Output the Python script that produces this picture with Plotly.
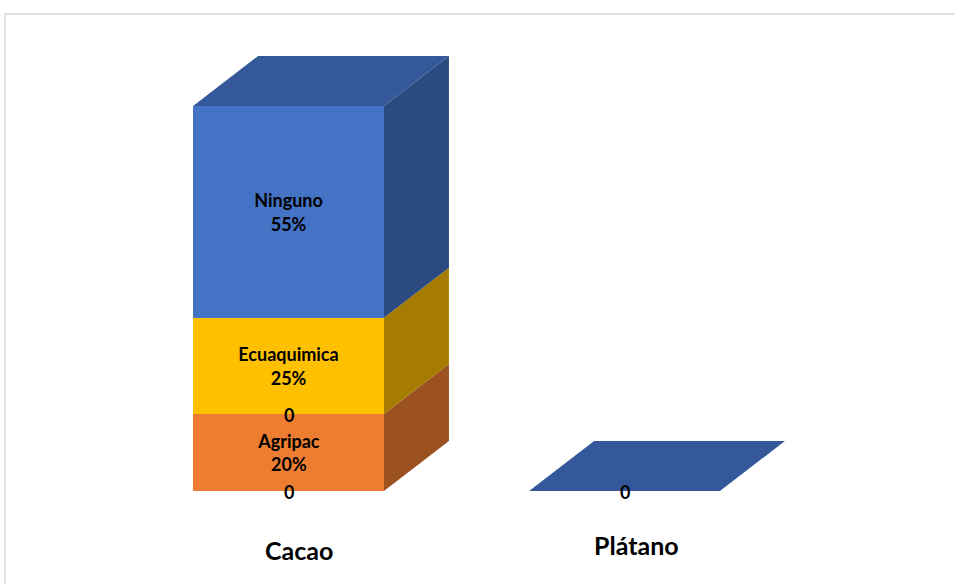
import plotly.graph_objects as go

# ---- data ----
categories = ["Cacao", "Plátano"]
series_names = ["Agripac", "Ecuaquimica", "Ninguno"]
cacao_values = [20, 25, 55]
platano_values = [0, 0, 0]
# zero-valued series shown only as "0" labels: (category index, stack level index)
zero_label_cat = [0, 0, 1]
zero_label_level = [0, 1, 0]   # number of named series below the label
zero_label_text = ["0", "0", "0"]

# ---- style ----
front_colors = ["#ED7D31", "#FFC000", "#4472C4"]
side_colors = ["#9C5121", "#A67C00", "#2B4A80"]
top_color = "#34589A"
bar_width = 0.568
depth_dx = 0.1935
depth_dy = 12.99
FONT = "Lato"

values = [cacao_values, platano_values]
x_pos = list(range(len(categories)))

fig = go.Figure()

for si, name in enumerate(series_names):
    ys = [values[ci][si] for ci in x_pos]
    texts = [f"<b>{name}<br>{v}%</b>" if v > 0 else "" for v in ys]
    fig.add_trace(go.Bar(
        x=x_pos, y=ys, name=name, width=bar_width,
        marker=dict(color=front_colors[si], line=dict(width=0)),
        text=texts, textposition="inside", insidetextanchor="middle",
        textangle=0, textfont=dict(family=FONT, size=18, color="black"),
        hoverinfo="skip",
    ))

shapes = []
for ci in x_pos:
    x1 = ci + bar_width / 2
    x0 = ci - bar_width / 2
    base = 0
    for si in range(len(series_names)):
        v = values[ci][si]
        if v > 0:
            y0, y1 = base, base + v
            shapes.append(dict(
                type="path", xref="x", yref="y", layer="below",
                path=f"M {x1},{y0} L {x1+depth_dx},{y0+depth_dy} L {x1+depth_dx},{y1+depth_dy} L {x1},{y1} Z",
                fillcolor=side_colors[si], line=dict(width=0)))
        base += v
    shapes.append(dict(
        type="path", xref="x", yref="y", layer="below",
        path=f"M {x0},{base} L {x0+depth_dx},{base+depth_dy} L {x1+depth_dx},{base+depth_dy} L {x1},{base} Z",
        fillcolor=top_color, line=dict(width=0)))

# chart frame
shapes.append(dict(type="rect", xref="paper", yref="paper",
                   x0=0, x1=1.05, y0=-0.5, y1=1 + 26 / 451,
                   line=dict(color="#D9D9D9", width=1.5), fillcolor="rgba(0,0,0,0)",
                   layer="below"))

annotations = []
# zero labels
for c, lvl, t in zip(zero_label_cat, zero_label_level, zero_label_text):
    annotations.append(dict(
        x=c, y=sum(values[c][:lvl]), xref="x", yref="y", text=f"<b>{t}</b>",
        showarrow=False, yshift=-1,
        font=dict(family=FONT, size=18, color="black")))

label_shift = [(10, -59), (12, -54)]
for ci, cat in enumerate(categories):
    annotations.append(dict(
        x=ci, y=0, xref="x", yref="y", text=f"<b>{cat}</b>", showarrow=False,
        xshift=label_shift[ci][0], yshift=label_shift[ci][1],
        font=dict(family=FONT, size=25, color="black")))

fig.update_layout(
    width=955, height=584,
    margin=dict(l=5, r=0, t=40, b=93),
    barmode="stack", showlegend=False,
    paper_bgcolor="white", plot_bgcolor="white",
    shapes=shapes, annotations=annotations,
    xaxis=dict(range=[-0.8438, 1.9836], visible=False, fixedrange=True),
    yaxis=dict(range=[0, 117.14], visible=False, fixedrange=True),
    uniformtext=dict(minsize=18, mode="show"),
)

fig.write_html("out.html", config={"displayModeBar": False},
               post_script="document.body.style.margin='0';")
